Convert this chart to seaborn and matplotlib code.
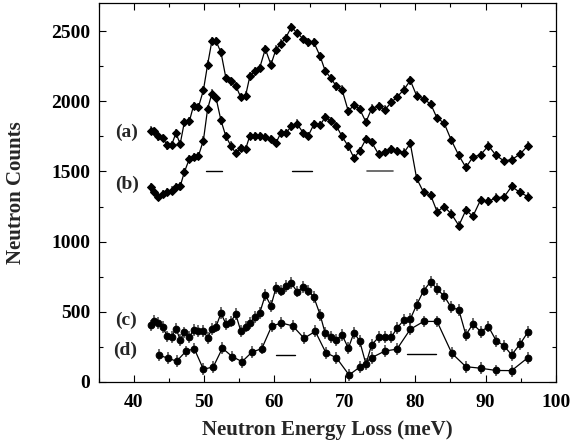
import matplotlib
matplotlib.use("Agg")
import matplotlib.pyplot as plt
import seaborn as sns
import numpy as np
from matplotlib.ticker import MultipleLocator

# ---- data ----
energy_abc = [42.4, 42.9, 43.5, 44.1, 44.8, 45.4, 46.0, 46.6, 47.2, 47.9,
              48.5, 49.2, 49.9, 50.5, 51.1, 51.7, 52.4, 53.1, 53.8, 54.5,
              55.2, 55.9, 56.5, 57.2, 57.9, 58.7, 59.5, 60.2, 60.9, 61.6,
              62.4, 63.2, 64.1, 64.8, 65.6, 66.5, 67.2, 68.0, 68.8, 69.6,
              70.5, 71.3, 72.1, 73.0, 73.8, 74.8, 75.7, 76.6, 77.4, 78.4,
              79.3, 80.2, 81.2, 82.2, 83.1, 84.1, 85.1, 86.2, 87.2, 88.2,
              89.3, 90.4, 91.5, 92.6, 93.7, 94.9, 96.0]
counts_a = [1791, 1786, 1750, 1739, 1686, 1691, 1774, 1696, 1853, 1857,
            1969, 1960, 2079, 2262, 2429, 2429, 2350, 2167, 2143, 2112,
            2031, 2041, 2179, 2214, 2239, 2374, 2262, 2369, 2412, 2453,
            2531, 2489, 2446, 2421, 2421, 2321, 2219, 2167, 2107, 2084,
            1929, 1976, 1946, 1853, 1948, 1969, 1941, 1993, 2031, 2084,
            2150, 2041, 2017, 1981, 1881, 1846, 1726, 1614, 1529, 1603,
            1619, 1684, 1614, 1576, 1584, 1624, 1684]
counts_b = [1386, 1357, 1317, 1339, 1353, 1364, 1386, 1393, 1496, 1589,
            1603, 1612, 1721, 1946, 2055, 2024, 1864, 1750, 1684, 1631,
            1667, 1660, 1755, 1750, 1750, 1746, 1731, 1703, 1774, 1774,
            1821, 1841, 1774, 1755, 1836, 1830, 1889, 1862, 1824, 1750,
            1679, 1596, 1646, 1731, 1709, 1623, 1641, 1657, 1646, 1634,
            1700, 1451, 1350, 1330, 1214, 1248, 1200, 1114, 1224, 1181,
            1298, 1286, 1314, 1317, 1393, 1350, 1321]
counts_c = [401, 432, 417, 389, 323, 321, 379, 300, 351, 319,
            369, 362, 362, 314, 374, 393, 489, 412, 429, 481,
            364, 393, 417, 464, 489, 619, 541, 667, 650, 684,
            703, 643, 673, 650, 603, 476, 346, 321, 298, 334,
            239, 350, 291, 126, 262, 317, 321, 317, 381, 441,
            446, 548, 650, 714, 660, 612, 531, 512, 334, 412,
            357, 393, 293, 257, 191, 269, 353]
energy_d = [43.6, 44.9, 46.1, 47.4, 48.6, 49.9, 51.3, 52.6, 54.0, 55.4,
            56.8, 58.2, 59.6, 61.0, 62.6, 64.2, 65.8, 67.3, 68.8, 70.6,
            72.2, 73.8, 75.7, 77.4, 79.3, 81.2, 83.1, 85.2, 87.2, 89.3,
            91.5, 93.7, 96.0]
counts_d = [189, 167, 146, 216, 236, 89, 105, 239, 179, 143,
            211, 236, 396, 419, 398, 310, 359, 207, 171, 48,
            107, 171, 219, 232, 374, 430, 430, 203, 107, 96,
            80, 79, 171]
err_ab = 30
err_cd = 42

# resolution bars: (x_start, x_end, y)
res_bars_ab = [(50.3, 52.5, 1505), (62.5, 65.4, 1505), (73.2, 76.8, 1500)]
res_bars_cd = [(60.2, 62.9, 193), (78.9, 83.0, 196)]

labels = ["(a)", "(b)", "(c)", "(d)"]
label_pos = [(39.0, 1776), (39.05, 1405), (38.9, 436), (38.8, 221)]

# ---- plotting ----
sns.set_theme(style="ticks")
plt.rcParams["font.family"] = ["Liberation Serif", "DejaVu Serif"]
plt.rcParams["font.weight"] = "bold"

fig = plt.figure(figsize=(5.84, 4.46), dpi=100)
ax = fig.add_axes([0.1687, 0.1442, 0.7833, 0.8484])

series = [
    (energy_abc, counts_a, err_ab, "D", 4.2),
    (energy_abc, counts_b, err_ab, "D", 4.2),
    (energy_abc, counts_c, err_cd, "o", 4.8),
    (energy_d, counts_d, err_cd, "o", 4.8),
]
for x, y, e, m, ms in series:
    ax.errorbar(x, y, yerr=e, fmt="none", ecolor="#444444", elinewidth=1.1,
                capsize=0, zorder=2)
    sns.lineplot(x=x, y=y, ax=ax, color="black", linewidth=0.9, marker=m,
                 markersize=ms, markeredgecolor="black",
                 markerfacecolor="black", zorder=3, sort=False)

for x0, x1, yv in res_bars_ab[:2]:
    ax.plot([x0, x1], [yv, yv], color="black", linewidth=1.0)
x0, x1, yv = res_bars_ab[2]
ax.plot([x0, x1], [yv, yv], color="#555555", linewidth=1.2)
for x0, x1, yv in res_bars_cd:
    ax.plot([x0, x1], [yv, yv], color="black", linewidth=1.0)

for lab, (lx, ly) in zip(labels, label_pos):
    ax.text(lx, ly, lab, ha="center", va="center", fontsize=14,
            fontweight="bold")

ax.set_xlim(35, 100)
ax.set_ylim(0, 2700)
ax.set_xticks([40, 50, 60, 70, 80, 90, 100])
ax.set_yticks([0, 500, 1000, 1500, 2000, 2500])
ax.xaxis.set_minor_locator(MultipleLocator(5))
ax.yaxis.set_minor_locator(MultipleLocator(250))
ax.tick_params(which="both", direction="in", top=True, right=True,
               colors="black", labelsize=14, width=0.8)
ax.tick_params(which="major", length=5)
ax.tick_params(which="minor", length=3)
ax.tick_params(axis="x", which="major", pad=9)
ax.tick_params(axis="y", which="major", pad=6)
for lbl in ax.get_xticklabels() + ax.get_yticklabels():
    lbl.set_fontweight("bold")
for sp in ax.spines.values():
    sp.set_color("black")
    sp.set_linewidth(0.9)

ax.set_xlabel("Neutron Energy Loss (meV)", fontsize=15, fontweight="bold")
ax.set_ylabel("Neutron Counts", fontsize=15, fontweight="bold")
ax.xaxis.set_label_coords(0.5, -0.100)
ax.yaxis.set_label_coords(-0.158, 0.5)

fig.savefig("out.png", dpi=100)
